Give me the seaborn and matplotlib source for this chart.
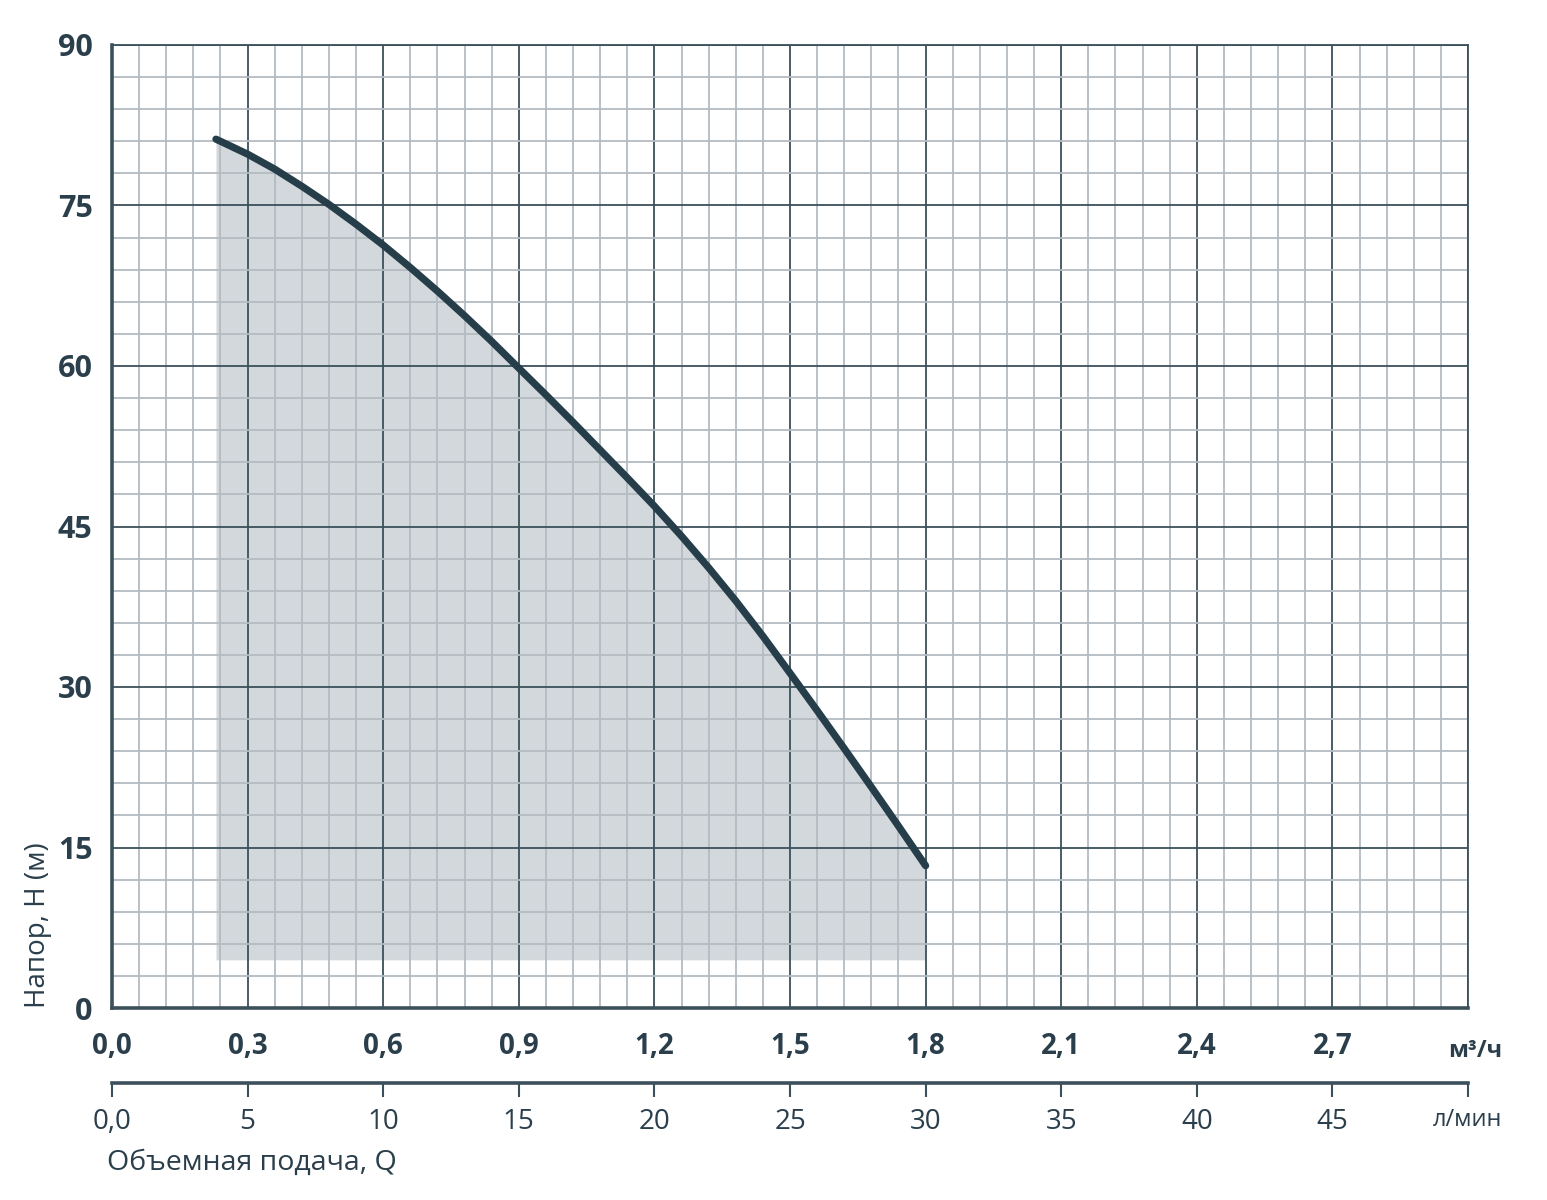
import matplotlib
matplotlib.use('Agg')
import matplotlib.pyplot as plt
import matplotlib.ticker as ticker
import seaborn as sns
import pandas as pd

# flow (m3/h) and head (m)
flow = [0.23, 0.30, 0.36, 0.42, 0.48, 0.54, 0.60, 0.66, 0.72, 0.78, 0.84, 0.90, 0.96, 1.02,
        1.08, 1.14, 1.20, 1.26, 1.32, 1.38, 1.44, 1.50, 1.56, 1.62, 1.68, 1.74, 1.80]
head = [81.2, 79.8, 78.4, 76.8, 75.1, 73.25, 71.3, 69.2, 67.0, 64.7, 62.3, 59.8, 57.3, 54.75,
        52.15, 49.55, 46.9, 44.1, 41.15, 38.05, 34.75, 31.3, 27.8, 24.25, 20.65, 17.0, 13.3]
area_bottom = 4.5

x_ticks = [0.0, 0.3, 0.6, 0.9, 1.2, 1.5, 1.8, 2.1, 2.4, 2.7, 3.0]
x_labels = ['0,0', '0,3', '0,6', '0,9', '1,2', '1,5', '1,8', '2,1', '2,4', '2,7', '']
y_ticks = [0, 15, 30, 45, 60, 75, 90]
lpm_ticks = [0, 5, 10, 15, 20, 25, 30, 35, 40, 45, 50]
lpm_labels = ['0,0', '5', '10', '15', '20', '25', '30', '35', '40', '45', 'л/мин']

df = pd.DataFrame({'Q': flow, 'H': head})

sns.set_style('white')
plt.rcParams['font.family'] = ['Open Sans', 'DejaVu Sans']

dark = '#2a3f4b'
major_c = '#3b505b'
minor_c = '#b3bcc1'

fig = plt.figure(figsize=(15.47, 12), dpi=100)
ax = fig.add_axes([112 / 1547, 1 - 1008 / 1200, (1468 - 112) / 1547, (1008 - 45) / 1200])

# shaded working range
ax.fill_between(df['Q'], area_bottom, df['H'], color='#d3d8dc', lw=0, zorder=0.3)
sns.lineplot(data=df, x='Q', y='H', ax=ax, color='#263d4a', lw=5.2, sort=False,
             estimator=None, zorder=3, solid_capstyle='round', solid_joinstyle='round')

ax.set_xlim(0, 3.0)
ax.set_ylim(0, 90)
ax.set_xticks(x_ticks)
ax.set_xticklabels(x_labels)
ax.set_yticks(y_ticks)
ax.xaxis.set_minor_locator(ticker.MultipleLocator(0.06))
ax.yaxis.set_minor_locator(ticker.MultipleLocator(3))

ax.set_axisbelow(True)
ax.grid(which='minor', color=minor_c, lw=1.3)
ax.grid(which='major', color=major_c, lw=1.3)

for s in ['top', 'right']:
    ax.spines[s].set_color(major_c)
    ax.spines[s].set_linewidth(1.3)
for s in ['left', 'bottom']:
    ax.spines[s].set_color(major_c)
    ax.spines[s].set_linewidth(2.6)

ax.tick_params(which='minor', length=0)
ax.tick_params(axis='x', which='major', direction='out', length=9, width=1.5, color=major_c,
               pad=8, labelsize=20, labelcolor=dark)
ax.tick_params(axis='y', which='major', direction='out', length=11, width=1.5, color=major_c,
               pad=3, labelsize=22, labelcolor=dark)
for lab in ax.get_xticklabels() + ax.get_yticklabels():
    lab.set_fontweight('bold')

ax.set_xlabel('')
ax.set_ylabel('')
ax.text(-0.0546, 0.0, 'Напор, Н (м)', transform=ax.transAxes, rotation=90,
        ha='center', va='bottom', fontsize=20, color=dark)
ax.text(1.005, -0.045, 'м³/ч', transform=ax.transAxes, ha='center', va='center',
        fontsize=17, fontweight='bold', color=dark)

# second scale in l/min
sec = ax.secondary_xaxis(-0.078, functions=(lambda q: q * 50 / 3, lambda l: l * 3 / 50))
sec.set_xticks(lpm_ticks)
sec.set_xticklabels(lpm_labels)
sec.spines['bottom'].set_color(major_c)
sec.spines['bottom'].set_linewidth(2.6)
sec.tick_params(axis='x', direction='out', length=10, width=1.5, color=major_c, pad=8,
                labelsize=20, labelcolor=dark)
for lab in sec.get_xticklabels():
    if lab.get_text() == 'л/мин':
        lab.set_fontsize(17)

ax.text(-0.004, -0.161, 'Объемная подача, Q', transform=ax.transAxes, ha='left', va='center',
        fontsize=20.5, color=dark)

fig.savefig('out.png', dpi=100, facecolor='white')
